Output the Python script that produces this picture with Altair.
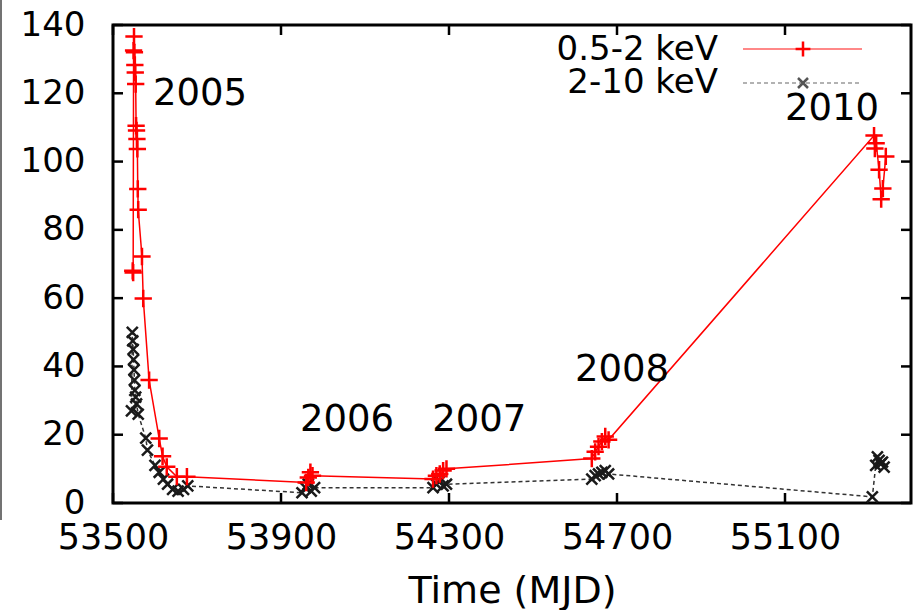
import altair as alt
import pandas as pd

# ---------------- data ----------------
soft_mjd = [53547, 53548, 53549, 53550, 53551, 53552, 53553, 53554, 53555, 53556,
            53557, 53558, 53559, 53560, 53569, 53572, 53586, 53610, 53618, 53628,
            53652, 53676,
            53960, 53965, 53970, 53975,
            54262, 54270, 54278, 54286, 54294,
            54640, 54648, 54656, 54664, 54672, 54680,
            55312, 55314, 55317, 55324, 55329, 55333, 55340]
soft_flux = [68.0, 67.5, 132.5, 136.6, 132.0, 128.3, 126.1, 122.7, 110.5, 109.1,
             106.6, 103.7, 92.0, 85.9, 72.2, 59.9, 36.0, 18.9, 13.7, 10.6,
             7.7, 7.7,
             6.0, 7.5, 9.0, 8.0,
             7.0, 8.0, 8.5, 9.5, 10.0,
             13.0, 15.0, 16.5, 18.0, 19.5, 18.5,
             107.6, 103.8, 105.4, 97.6, 89.0, 92.1, 101.5]

hard_mjd = [53544, 53546, 53547, 53548, 53549, 53550, 53551, 53552, 53554, 53556,
            53560, 53578, 53582, 53600, 53610, 53620, 53630, 53642, 53655, 53668,
            53678,
            53950, 53958, 53965, 53972, 53980,
            54262, 54270, 54278, 54286, 54294,
            54640, 54648, 54656, 54664, 54672, 54680,
            55308, 55316, 55320, 55324, 55328, 55332, 55336]
hard_flux = [27.0, 50.0, 47.5, 45.0, 42.0, 39.0, 36.0, 33.0, 31.0, 29.0,
             26.0, 19.0, 15.5, 11.0, 9.0, 7.0, 5.5, 4.0, 3.5, 4.0,
             5.0,
             3.0, 4.5, 5.5, 3.5, 4.5,
             4.5, 5.5, 6.5, 5.0, 5.5,
             7.0, 8.0, 8.5, 9.0, 9.5, 8.5,
             1.8, 11.0, 13.5, 12.5, 11.5, 12.0, 10.5]

series_names = ["0.5-2 keV", "2-10 keV"]

ann_text = ["2005", "2006", "2007", "2008", "2010"]
ann_mjd = [53595, 53945, 54260, 54600, 55100]
ann_flux = [116.5, 21.1, 21.1, 35.7, 112.1]

x_ticks = [53500, 53900, 54300, 54700, 55100]
y_ticks = [0, 20, 40, 60, 80, 100, 120, 140]

# ---------------- layout constants ----------------
W, H = 798, 478
FONT = "DejaVu Sans"
PLUS = "M-1,0L1,0M0,-1L0,1"
CROSS = "M-1,-1L1,1M-1,1L1,-1"

soft = pd.DataFrame({"mjd": soft_mjd, "flux": soft_flux})
hard = pd.DataFrame({"mjd": hard_mjd, "flux": hard_flux})
ann = pd.DataFrame({"mjd": ann_mjd, "flux": ann_flux, "label": ann_text})
xt = pd.DataFrame({"mjd": x_ticks})
yt = pd.DataFrame({"flux": y_ticks})

xscale = alt.Scale(domain=[53500, 55400], nice=False, zero=False)
yscale = alt.Scale(domain=[0, 140], nice=False)

x_axis = alt.Axis(values=x_ticks, format="d", title="Time (MJD)",
                  grid=False, tickSize=0, domain=False,
                  labelFont=FONT, labelFontSize=35, labelColor="black",
                  labelPadding=17, labelFlush=False,
                  titleFont=FONT, titleFontSize=38, titleFontWeight="normal",
                  titleColor="black", titleY=99, titleBaseline="alphabetic")
y_axis = alt.Axis(values=y_ticks, title=None, grid=False, tickSize=0,
                  domain=False, labelFont=FONT, labelFontSize=34,
                  labelColor="black", labelPadding=28, labelFlush=False)
X = alt.X("mjd:Q", scale=xscale, axis=x_axis)
Y = alt.Y("flux:Q", scale=yscale, axis=y_axis)

hard_line = alt.Chart(hard).mark_line(color="#333333", strokeWidth=1.5,
                                      strokeDash=[4, 3]).encode(x=X, y=Y)
hard_pts = alt.Chart(hard).mark_point(shape=CROSS, size=120, filled=False,
                                      color="#1a1a1a", strokeWidth=2.5,
                                      opacity=1).encode(x=X, y=Y)
soft_line = alt.Chart(soft).mark_line(color="#ff0000", strokeWidth=1.5).encode(x=X, y=Y)
soft_pts = alt.Chart(soft).mark_point(shape=PLUS, size=300, filled=False,
                                      color="#ff0000", strokeWidth=2.5,
                                      opacity=1).encode(x=X, y=Y)

labels = alt.Chart(ann).mark_text(align="left", baseline="alphabetic", font=FONT,
                                  fontSize=37, color="black").encode(
    x=X, y=Y, text="label:N")

# inward ticks on all four sides
tick_style = dict(color="black", strokeWidth=2.5)
left_t = alt.Chart(yt).mark_rule(**tick_style).encode(y=Y, x=alt.value(0), x2=alt.value(10))
right_t = alt.Chart(yt).mark_rule(**tick_style).encode(y=Y, x=alt.value(W - 10), x2=alt.value(W))
bottom_t = alt.Chart(xt).mark_rule(**tick_style).encode(x=X, y=alt.value(H - 10), y2=alt.value(H))
top_t = alt.Chart(xt).mark_rule(**tick_style).encode(x=X, y=alt.value(0), y2=alt.value(10))

# legend (gnuplot style: label right-aligned, sample to the right)
leg_layers = []
leg_styles = [
    dict(line=dict(color="#ff6060", strokeWidth=1.5), pt=dict(shape=PLUS, size=220, color="#ff0000")),
    dict(line=dict(color="#999999", strokeWidth=1.5, strokeDash=[4, 3]), pt=dict(shape=CROSS, size=100, color="#555555")),
]
for i, name in enumerate(series_names):
    one = pd.DataFrame({"name": [name]})
    yb = 35 + 33 * i
    ys = 24 + 34 * i
    leg_layers.append(alt.Chart(one).mark_text(align="right", baseline="alphabetic", font=FONT,
                                               fontSize=34, color="black").encode(
        x=alt.value(605), y=alt.value(yb), text="name:N"))
    leg_layers.append(alt.Chart(one).mark_rule(**leg_styles[i]["line"]).encode(
        x=alt.value(630), x2=alt.value(749), y=alt.value(ys)))
    st = leg_styles[i]["pt"]
    leg_layers.append(alt.Chart(one).mark_point(shape=st["shape"], size=st["size"], filled=False,
                                                color=st["color"], strokeWidth=2.5, opacity=1).encode(
        x=alt.value(690), y=alt.value(ys)))

# thin scan-edge line at the far left of the reference picture
edge = alt.Chart(pd.DataFrame({"name": ["edge"]})).mark_rule(color="#444444", strokeWidth=1.5).encode(
    x=alt.value(-112), y=alt.value(-25), y2=alt.value(495))

chart = alt.layer(
    hard_line, soft_line, hard_pts, soft_pts, labels,
    left_t, right_t, bottom_t, top_t, edge, *leg_layers
).properties(
    width=W, height=H,
    background="white",
    autosize=alt.AutoSizeParams(type="none"),
    padding={"left": 113, "top": 25, "right": 4, "bottom": 107},
).configure_view(
    stroke="black", strokeWidth=3
)

chart.save("out.html", embed_options={"renderer": "svg", "actions": False})
